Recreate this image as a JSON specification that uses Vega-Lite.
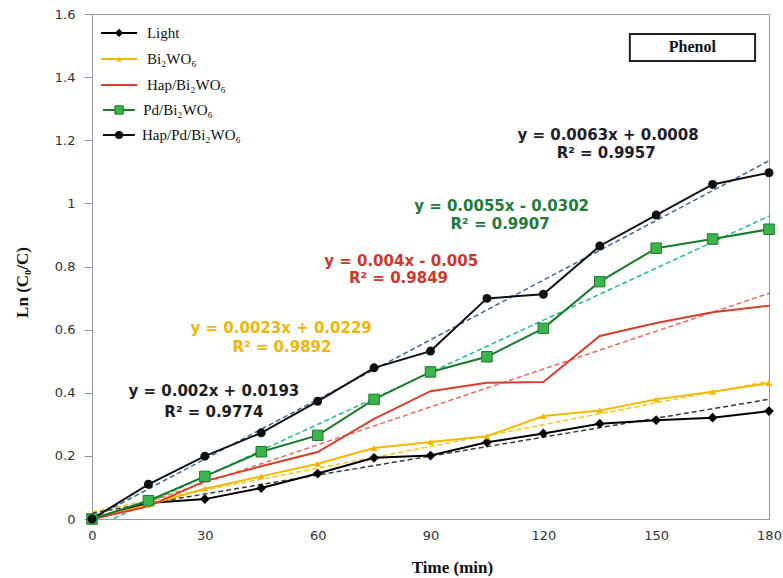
{
  "$schema": "https://vega.github.io/schema/vega-lite/v6.json",
  "width": 677,
  "height": 505,
  "autosize": "none",
  "padding": {"left": 92, "top": 14, "right": 14, "bottom": 59},
  "background": "white",
  "config": {
    "view": {"stroke": "#8a96a0", "strokeWidth": 1},
    "axis": {"grid": false, "domainColor": "#8a9aa8", "tickColor": "#8a9aa8"}
  },
  "datasets": {
    "obs": [
      {"t": 0, "v": 0, "series": "Light"},
      {"t": 15, "v": 0.051, "series": "Light"},
      {"t": 30, "v": 0.063, "series": "Light"},
      {"t": 45, "v": 0.098, "series": "Light"},
      {"t": 60, "v": 0.144, "series": "Light"},
      {"t": 75, "v": 0.194, "series": "Light"},
      {"t": 90, "v": 0.201, "series": "Light"},
      {"t": 105, "v": 0.243, "series": "Light"},
      {"t": 120, "v": 0.271, "series": "Light"},
      {"t": 135, "v": 0.302, "series": "Light"},
      {"t": 150, "v": 0.313, "series": "Light"},
      {"t": 165, "v": 0.321, "series": "Light"},
      {"t": 180, "v": 0.342, "series": "Light"},
      {"t": 0, "v": 0, "series": "Bi₂WO₆"},
      {"t": 15, "v": 0.045, "series": "Bi₂WO₆"},
      {"t": 30, "v": 0.096, "series": "Bi₂WO₆"},
      {"t": 45, "v": 0.135, "series": "Bi₂WO₆"},
      {"t": 60, "v": 0.175, "series": "Bi₂WO₆"},
      {"t": 75, "v": 0.225, "series": "Bi₂WO₆"},
      {"t": 90, "v": 0.244, "series": "Bi₂WO₆"},
      {"t": 105, "v": 0.262, "series": "Bi₂WO₆"},
      {"t": 120, "v": 0.326, "series": "Bi₂WO₆"},
      {"t": 135, "v": 0.344, "series": "Bi₂WO₆"},
      {"t": 150, "v": 0.379, "series": "Bi₂WO₆"},
      {"t": 165, "v": 0.403, "series": "Bi₂WO₆"},
      {"t": 180, "v": 0.43, "series": "Bi₂WO₆"},
      {"t": 0, "v": 0, "series": "Hap/Bi₂WO₆"},
      {"t": 15, "v": 0.04, "series": "Hap/Bi₂WO₆"},
      {"t": 30, "v": 0.12, "series": "Hap/Bi₂WO₆"},
      {"t": 45, "v": 0.167, "series": "Hap/Bi₂WO₆"},
      {"t": 60, "v": 0.212, "series": "Hap/Bi₂WO₆"},
      {"t": 75, "v": 0.317, "series": "Hap/Bi₂WO₆"},
      {"t": 90, "v": 0.405, "series": "Hap/Bi₂WO₆"},
      {"t": 105, "v": 0.432, "series": "Hap/Bi₂WO₆"},
      {"t": 120, "v": 0.434, "series": "Hap/Bi₂WO₆"},
      {"t": 135, "v": 0.58, "series": "Hap/Bi₂WO₆"},
      {"t": 150, "v": 0.621, "series": "Hap/Bi₂WO₆"},
      {"t": 165, "v": 0.655, "series": "Hap/Bi₂WO₆"},
      {"t": 180, "v": 0.676, "series": "Hap/Bi₂WO₆"},
      {"t": 0, "v": 0, "series": "Pd/Bi₂WO₆"},
      {"t": 15, "v": 0.058, "series": "Pd/Bi₂WO₆"},
      {"t": 30, "v": 0.135, "series": "Pd/Bi₂WO₆"},
      {"t": 45, "v": 0.213, "series": "Pd/Bi₂WO₆"},
      {"t": 60, "v": 0.265, "series": "Pd/Bi₂WO₆"},
      {"t": 75, "v": 0.379, "series": "Pd/Bi₂WO₆"},
      {"t": 90, "v": 0.466, "series": "Pd/Bi₂WO₆"},
      {"t": 105, "v": 0.514, "series": "Pd/Bi₂WO₆"},
      {"t": 120, "v": 0.604, "series": "Pd/Bi₂WO₆"},
      {"t": 135, "v": 0.752, "series": "Pd/Bi₂WO₆"},
      {"t": 150, "v": 0.858, "series": "Pd/Bi₂WO₆"},
      {"t": 165, "v": 0.887, "series": "Pd/Bi₂WO₆"},
      {"t": 180, "v": 0.918, "series": "Pd/Bi₂WO₆"},
      {"t": 0, "v": 0, "series": "Hap/Pd/Bi₂WO₆"},
      {"t": 15, "v": 0.11, "series": "Hap/Pd/Bi₂WO₆"},
      {"t": 30, "v": 0.199, "series": "Hap/Pd/Bi₂WO₆"},
      {"t": 45, "v": 0.273, "series": "Hap/Pd/Bi₂WO₆"},
      {"t": 60, "v": 0.373, "series": "Hap/Pd/Bi₂WO₆"},
      {"t": 75, "v": 0.479, "series": "Hap/Pd/Bi₂WO₆"},
      {"t": 90, "v": 0.532, "series": "Hap/Pd/Bi₂WO₆"},
      {"t": 105, "v": 0.699, "series": "Hap/Pd/Bi₂WO₆"},
      {"t": 120, "v": 0.712, "series": "Hap/Pd/Bi₂WO₆"},
      {"t": 135, "v": 0.865, "series": "Hap/Pd/Bi₂WO₆"},
      {"t": 150, "v": 0.963, "series": "Hap/Pd/Bi₂WO₆"},
      {"t": 165, "v": 1.06, "series": "Hap/Pd/Bi₂WO₆"},
      {"t": 180, "v": 1.097, "series": "Hap/Pd/Bi₂WO₆"}
    ],
    "fits": [
      {"t": 0, "v": 0.0193, "series": "Light"},
      {"t": 180, "v": 0.3793, "series": "Light"},
      {"t": 0, "v": 0.0229, "series": "Bi₂WO₆"},
      {"t": 180, "v": 0.4369, "series": "Bi₂WO₆"},
      {"t": 0, "v": -0.005, "series": "Hap/Bi₂WO₆"},
      {"t": 180, "v": 0.715, "series": "Hap/Bi₂WO₆"},
      {"t": 0, "v": -0.0302, "series": "Pd/Bi₂WO₆"},
      {"t": 180, "v": 0.9598, "series": "Pd/Bi₂WO₆"},
      {"t": 0, "v": 0.0008, "series": "Hap/Pd/Bi₂WO₆"},
      {"t": 180, "v": 1.1348, "series": "Hap/Pd/Bi₂WO₆"}
    ],
    "eqs": [
      {"t": 32.4, "v": 0.406, "series": "Light", "label": "y = 0.002x + 0.0193"},
      {"t": 32.4, "v": 0.339, "series": "Light", "label": "R² = 0.9774"},
      {"t": 50.3, "v": 0.605, "series": "Bi₂WO₆", "label": "y = 0.0023x + 0.0229"},
      {"t": 50.5, "v": 0.545, "series": "Bi₂WO₆", "label": "R² = 0.9892"},
      {"t": 82.2, "v": 0.818, "series": "Hap/Bi₂WO₆", "label": "y = 0.004x - 0.005"},
      {"t": 81.5, "v": 0.762, "series": "Hap/Bi₂WO₆", "label": "R² = 0.9849"},
      {"t": 108.9, "v": 0.993, "series": "Pd/Bi₂WO₆", "label": "y = 0.0055x - 0.0302"},
      {"t": 108.5, "v": 0.935, "series": "Pd/Bi₂WO₆", "label": "R² = 0.9907"},
      {"t": 137.2, "v": 1.217, "series": "Hap/Pd/Bi₂WO₆", "label": "y = 0.0063x + 0.0008"},
      {"t": 136.7, "v": 1.16, "series": "Hap/Pd/Bi₂WO₆", "label": "R² = 0.9957"}
    ],
    "note": [{"label": "Phenol"}]
  },
  "layer": [
    {
      "encoding": {
        "x": {
          "field": "t", "type": "quantitative",
          "scale": {"domain": [0, 180]},
          "axis": {
            "values": [0, 30, 60, 90, 120, 150, 180],
            "title": "Time (min)",
            "ticks": false,
            "labelFlush": false,
            "labelPadding": 10,
            "labelFont": "DejaVu Sans", "labelFontSize": 13, "labelColor": "#333333",
            "titleFont": "Liberation Serif", "titleFontSize": 17, "titleFontWeight": "bold", "titleColor": "#111111",
            "titleX": 360, "titleY": 48, "titleBaseline": "middle"
          }
        },
        "y": {
          "field": "v", "type": "quantitative",
          "scale": {"domain": [0, 1.6]},
          "axis": {
            "values": [0, 0.2, 0.4, 0.6, 0.8, 1, 1.2, 1.4, 1.6],
            "format": "~g",
            "title": "Ln (C₀/C)",
            "tickSize": 8,
            "labelPadding": 9,
            "labelFont": "DejaVu Sans", "labelFontSize": 13, "labelColor": "#333333",
            "titleFont": "Liberation Serif", "titleFontSize": 17, "titleFontWeight": "bold", "titleColor": "#111111",
            "titleX": -70, "titleY": 268, "titleBaseline": "middle"
          }
        }
      },
      "layer": [
        {"data": {"name": "fits"}, "transform": [{"filter": "datum.series === 'Light'"}],
         "mark": {"type": "line", "clip": true, "strokeDash": [5, 3], "strokeWidth": 1.5, "color": "#3a3a3a"}, "encoding": {}},
        {"data": {"name": "fits"}, "transform": [{"filter": "datum.series === 'Bi₂WO₆'"}],
         "mark": {"type": "line", "clip": true, "strokeDash": [5, 3], "strokeWidth": 1.5, "color": "#f7c51e"}, "encoding": {}},
        {"data": {"name": "fits"}, "transform": [{"filter": "datum.series === 'Hap/Bi₂WO₆'"}],
         "mark": {"type": "line", "clip": true, "strokeDash": [5, 3], "strokeWidth": 1.5, "color": "#ea6b5e"}, "encoding": {}},
        {"data": {"name": "fits"}, "transform": [{"filter": "datum.series === 'Pd/Bi₂WO₆'"}],
         "mark": {"type": "line", "clip": true, "strokeDash": [5, 3], "strokeWidth": 1.5, "color": "#1fbf86"}, "encoding": {}},
        {"data": {"name": "fits"}, "transform": [{"filter": "datum.series === 'Hap/Pd/Bi₂WO₆'"}],
         "mark": {"type": "line", "clip": true, "strokeDash": [5, 3], "strokeWidth": 1.5, "color": "#3a6a9a"}, "encoding": {}},
        {
          "data": {"name": "obs"},
          "mark": {"type": "line", "strokeWidth": 2},
          "encoding": {
            "color": {
              "field": "series", "type": "nominal", "legend": null,
              "scale": {
                "domain": ["Light", "Bi₂WO₆", "Hap/Bi₂WO₆", "Pd/Bi₂WO₆", "Hap/Pd/Bi₂WO₆"],
                "range": ["#000000", "#f5b800", "#d63f2c", "#1a7a2e", "#111111"]
              }
            }
          }
        },
        {"data": {"name": "obs"}, "transform": [{"filter": "datum.series === 'Light'"}],
         "mark": {"type": "point", "shape": "diamond", "filled": true, "opacity": 1, "size": 95, "color": "#000000"}, "encoding": {}},
        {"data": {"name": "obs"}, "transform": [{"filter": "datum.series === 'Bi₂WO₆'"}],
         "mark": {"type": "point", "shape": "triangle-up", "filled": true, "opacity": 1, "size": 45, "color": "#f5b800"}, "encoding": {}},
        {"data": {"name": "obs"}, "transform": [{"filter": "datum.series === 'Pd/Bi₂WO₆'"}],
         "mark": {"type": "point", "shape": "square", "filled": true, "opacity": 1, "size": 110, "fill": "#3cb44b", "stroke": "#1a7a2e", "strokeWidth": 1}, "encoding": {}},
        {"data": {"name": "obs"}, "transform": [{"filter": "datum.series === 'Hap/Pd/Bi₂WO₆'"}],
         "mark": {"type": "point", "shape": "circle", "filled": true, "opacity": 1, "size": 80, "color": "#111111"}, "encoding": {}},
        {"data": {"name": "eqs"}, "transform": [{"filter": "datum.series === 'Light'"}],
         "mark": {"type": "text", "font": "DejaVu Sans", "fontWeight": "bold", "fontSize": 15, "color": "#1e1e1e"},
         "encoding": {"text": {"field": "label"}}},
        {"data": {"name": "eqs"}, "transform": [{"filter": "datum.series === 'Bi₂WO₆'"}],
         "mark": {"type": "text", "font": "DejaVu Sans", "fontWeight": "bold", "fontSize": 15, "color": "#f2b50a"},
         "encoding": {"text": {"field": "label"}}},
        {"data": {"name": "eqs"}, "transform": [{"filter": "datum.series === 'Hap/Bi₂WO₆'"}],
         "mark": {"type": "text", "font": "DejaVu Sans", "fontWeight": "bold", "fontSize": 15, "color": "#c9392b"},
         "encoding": {"text": {"field": "label"}}},
        {"data": {"name": "eqs"}, "transform": [{"filter": "datum.series === 'Pd/Bi₂WO₆'"}],
         "mark": {"type": "text", "font": "DejaVu Sans", "fontWeight": "bold", "fontSize": 15, "color": "#237a38"},
         "encoding": {"text": {"field": "label"}}},
        {"data": {"name": "eqs"}, "transform": [{"filter": "datum.series === 'Hap/Pd/Bi₂WO₆'"}],
         "mark": {"type": "text", "font": "DejaVu Sans", "fontWeight": "bold", "fontSize": 15, "color": "#1c1c2c"},
         "encoding": {"text": {"field": "label"}}}
      ]
    },
    {
      "data": {"name": "note"},
      "mark": {"type": "rule", "color": "#000000", "strokeWidth": 2},
      "encoding": {"x": {"datum": 2.4, "type": "quantitative"}, "x2": {"datum": 12.0}, "y": {"datum": 1.540, "type": "quantitative"}}
    },
    {
      "data": {"name": "note"},
      "mark": {"type": "point", "shape": "diamond", "filled": true, "opacity": 1, "size": 70, "color": "#000000"},
      "encoding": {"x": {"datum": 7.2, "type": "quantitative"}, "y": {"datum": 1.540, "type": "quantitative"}}
    },
    {
      "data": {"name": "note"},
      "mark": {"type": "text", "text": "Light", "font": "Liberation Serif", "fontSize": 15, "color": "#111111", "align": "left", "baseline": "middle"},
      "encoding": {"x": {"datum": 14.6, "type": "quantitative"}, "y": {"datum": 1.540, "type": "quantitative"}}
    },
    {
      "data": {"name": "note"},
      "mark": {"type": "rule", "color": "#f5b800", "strokeWidth": 2},
      "encoding": {"x": {"datum": 2.4, "type": "quantitative"}, "x2": {"datum": 12.0}, "y": {"datum": 1.4575, "type": "quantitative"}}
    },
    {
      "data": {"name": "note"},
      "mark": {"type": "point", "shape": "triangle-up", "filled": true, "opacity": 1, "size": 35, "color": "#f5b800"},
      "encoding": {"x": {"datum": 7.2, "type": "quantitative"}, "y": {"datum": 1.4575, "type": "quantitative"}}
    },
    {
      "data": {"name": "note"},
      "mark": {"type": "text", "text": "Bi₂WO₆", "font": "Liberation Serif", "fontSize": 15, "color": "#111111", "align": "left", "baseline": "middle"},
      "encoding": {"x": {"datum": 14.6, "type": "quantitative"}, "y": {"datum": 1.4575, "type": "quantitative"}}
    },
    {
      "data": {"name": "note"},
      "mark": {"type": "rule", "color": "#d63f2c", "strokeWidth": 2},
      "encoding": {"x": {"datum": 2.4, "type": "quantitative"}, "x2": {"datum": 12.0}, "y": {"datum": 1.375, "type": "quantitative"}}
    },
    {
      "data": {"name": "note"},
      "mark": {"type": "text", "text": "Hap/Bi₂WO₆", "font": "Liberation Serif", "fontSize": 15, "color": "#111111", "align": "left", "baseline": "middle"},
      "encoding": {"x": {"datum": 14.6, "type": "quantitative"}, "y": {"datum": 1.375, "type": "quantitative"}}
    },
    {
      "data": {"name": "note"},
      "mark": {"type": "rule", "color": "#1a7a2e", "strokeWidth": 2},
      "encoding": {"x": {"datum": 2.9, "type": "quantitative"}, "x2": {"datum": 11.4}, "y": {"datum": 1.296, "type": "quantitative"}}
    },
    {
      "data": {"name": "note"},
      "mark": {"type": "point", "shape": "square", "filled": true, "opacity": 1, "size": 70, "fill": "#3cb44b", "stroke": "#1a7a2e", "strokeWidth": 1},
      "encoding": {"x": {"datum": 7.2, "type": "quantitative"}, "y": {"datum": 1.296, "type": "quantitative"}}
    },
    {
      "data": {"name": "note"},
      "mark": {"type": "text", "text": "Pd/Bi₂WO₆", "font": "Liberation Serif", "fontSize": 15, "color": "#111111", "align": "left", "baseline": "middle"},
      "encoding": {"x": {"datum": 13.6, "type": "quantitative"}, "y": {"datum": 1.296, "type": "quantitative"}}
    },
    {
      "data": {"name": "note"},
      "mark": {"type": "rule", "color": "#111111", "strokeWidth": 2},
      "encoding": {"x": {"datum": 2.9, "type": "quantitative"}, "x2": {"datum": 11.4}, "y": {"datum": 1.2167, "type": "quantitative"}}
    },
    {
      "data": {"name": "note"},
      "mark": {"type": "point", "shape": "circle", "filled": true, "opacity": 1, "size": 65, "color": "#111111"},
      "encoding": {"x": {"datum": 7.2, "type": "quantitative"}, "y": {"datum": 1.2167, "type": "quantitative"}}
    },
    {
      "data": {"name": "note"},
      "mark": {"type": "text", "text": "Hap/Pd/Bi₂WO₆", "font": "Liberation Serif", "fontSize": 15, "color": "#111111", "align": "left", "baseline": "middle"},
      "encoding": {"x": {"datum": 13.3, "type": "quantitative"}, "y": {"datum": 1.2167, "type": "quantitative"}}
    },
    {
      "data": {"name": "note"},
      "mark": {"type": "rect", "fill": "white", "stroke": "#222222", "strokeWidth": 2},
      "encoding": {
        "x": {"datum": 143.0, "type": "quantitative"}, "x2": {"datum": 176.3},
        "y": {"datum": 1.537, "type": "quantitative"}, "y2": {"datum": 1.451}
      }
    },
    {
      "data": {"name": "note"},
      "mark": {"type": "text", "font": "Liberation Serif", "fontWeight": "bold", "fontSize": 16, "color": "#111111", "align": "center", "baseline": "middle"},
      "encoding": {
        "text": {"field": "label"},
        "x": {"datum": 159.6, "type": "quantitative"},
        "y": {"datum": 1.494, "type": "quantitative"}
      }
    }
  ]
}
